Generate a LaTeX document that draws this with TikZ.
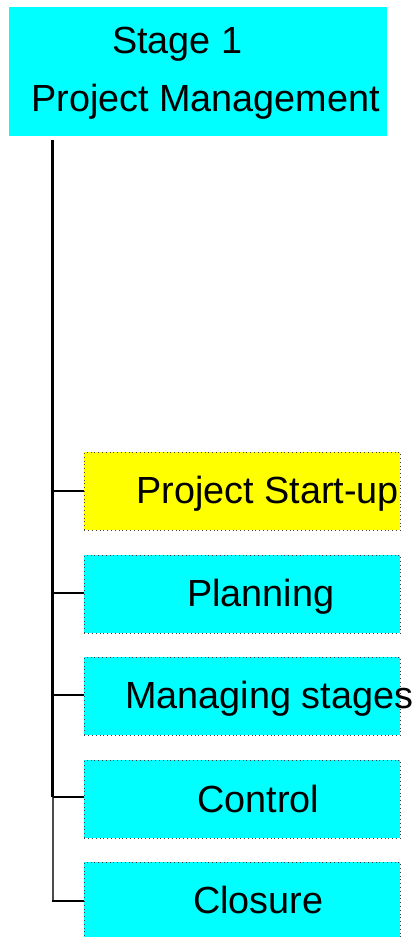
\documentclass[tikz,border=0pt]{standalone}
\usepackage{fontspec}
\setmainfont{Liberation Sans}
\definecolor{aqua}{RGB}{0,255,255}
\definecolor{lemon}{RGB}{255,255,0}
\begin{document}
\begin{tikzpicture}[x=1pt,y=-1pt,
  headbox/.style={fill=aqua, draw=none, inner sep=0pt, anchor=north west,
    minimum width=378pt, minimum height=129pt},
  taskbox/.style={draw=black!75, line width=0.8pt, dash pattern=on 0.8pt off 3pt,
    inner sep=0pt, anchor=north west, minimum width=316pt, minimum height=78pt},
  label/.style={anchor=base west, inner sep=0pt,
    font=\fontsize{37.8pt}{40pt}\selectfont},
  spine/.style={line width=2.5pt, black},
  tail/.style={line width=1.6pt, black!70},
  branch/.style={line width=2.5pt, black}]
\useasboundingbox (0,0) rectangle (419,937);

% header
\node[headbox] (head) at (9,7) {};
\node[label] (stage) at (112,53) {Stage 1};
\node[label] (pm) at (31,111) {Project Management};

% sub-process boxes
\node[taskbox, fill=lemon] (startup) at (84,452) {};
\node[taskbox, fill=aqua] (planning) at (84,555) {};
\node[taskbox, fill=aqua] (managing) at (84,657) {};
\node[taskbox, fill=aqua] (control) at (84,760) {};
\node[taskbox, fill=aqua] (closure) at (84,862) {};

\node[label] (tstartup) at (136,503) {Project Start-up};
\node[label] (tplanning) at (187,606) {Planning};
\node[label] (tmanaging) at (125,708) {Managing stages};
\node[label] (tcontrol) at (197,812) {Control};
\node[label] (tclosure) at (193,913) {Closure};

% tree spine and branches
\coordinate (top) at (52.7,140);
\coordinate (j1) at (52.7,491);
\coordinate (j2) at (52.7,593);
\coordinate (j3) at (52.7,695);
\coordinate (j4) at (52.7,797);
\coordinate (j5) at (52.7,901);

\draw[spine] (top) -- (j4);
\draw[tail] (j4) -- (j5);
\draw[branch] (j1) -- (startup.west |- j1);
\draw[branch] (j2) -- (planning.west |- j2);
\draw[branch] (j3) -- (managing.west |- j3);
\draw[branch] (j4) -- (control.west |- j4);
\draw[branch] ([xshift=-0.8pt]j5) -- (closure.west |- j5);
\end{tikzpicture}
\end{document}
